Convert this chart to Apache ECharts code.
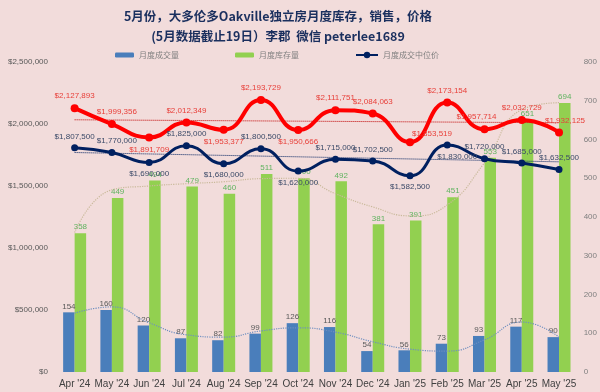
<!DOCTYPE html>
<html><head><meta charset="utf-8">
<script src="https://cdn.jsdelivr.net/npm/echarts@6/dist/echarts.min.js"></script>
<style>html,body{margin:0;padding:0;background:#f2dcdb}#c{width:600px;height:392px}</style>
</head><body><div id="c"></div>
<script>
var categories = ["Apr '24","May '24","Jun '24","Jul '24","Aug '24","Sep '24","Oct '24","Nov '24","Dec '24","Jan '25","Feb '25","Mar '25","Apr '25","May '25"];
var volume = [154,160,120,87,82,99,126,116,54,56,73,93,117,90];
var inventory = [358,449,494,479,460,511,500,492,381,391,451,553,651,694];
var medianPrice = [1807500,1770000,1690000,1825000,1680000,1800500,1620000,1715000,1702500,1582500,1830000,1720000,1685000,1632500];
var avgPrice = [2127893,1999356,1891709,2012349,1953377,2193729,1950666,2111751,2084063,1853519,2173154,1957714,2032729,1932125];
var volTrend = [152,168,127,96,90,106,114,103,78,59,54,83,129,90];
var invTrend = [360,470,480,486,491,499,500,460,426,403,431,540,677,695];
var avgTrendEnds = [2034000,2010000];
var medTrendEnds = [1770000,1695000];

var redPos = ['top','top','bottom','top','bottom','top','bottom','top','top','right','top','top','top','top'];
var navyPos = ['top','top','bottom','top','bottom','top','bottom','top','top','bottom','bottom','top','top','top'];
var redOff = [[0,0],[5,0],[0,0],[0,0],[0,0],[0,0],[0,0],[0,0],[0,0],[-6,-8],[0,0],[-8,0],[0,0],[6,0]];
var navyOff = [[0,0],[5,0],[0,0],[0,0],[0,0],[0,0],[0,0],[0,0],[0,0],[0,0],[10,0],[0,0],[0,0],[0,0]];

function money(v){return '$'+v.toString().replace(/\B(?=(\d{3})+(?!\d))/g, ',');}

var chart = echarts.init(document.getElementById('c'));
var lblFont = 'Liberation Sans';
chart.setOption({
  backgroundColor:'#f2dcdb',
  animation:false,
  title:{
    text:'5月份，大多伦多Oakville独立房月度库存，销售，价格\n(5月数据截止19日）李郡  微信 peterlee1689',
    left:273, top:1, textAlign:'center',
    textStyle:{fontFamily:'Noto Sans CJK SC',fontSize:12.5,fontWeight:'bold',color:'#1a2f5e',lineHeight:20}
  },
  legend:[
    {data:['月度成交量'],left:110,top:46,itemWidth:19,itemHeight:5,itemGap:2,textStyle:{fontSize:8,color:'#7f7f7f',fontFamily:'Noto Sans CJK SC'}},
    {data:['月度库存量'],left:230,top:46,itemWidth:19,itemHeight:5,itemGap:2,textStyle:{fontSize:8,color:'#7f7f7f',fontFamily:'Noto Sans CJK SC'}},
    {data:['月度成交中位价'],left:350,top:46,itemWidth:22,itemHeight:8,itemGap:2,textStyle:{fontSize:8,color:'#7f7f7f',fontFamily:'Noto Sans CJK SC'}}
  ],
  grid:{left:56,right:20,top:62,bottom:20},
  xAxis:{type:'category',data:categories,
    axisLine:{show:false},axisTick:{show:false},
    axisLabel:{interval:0,fontSize:10,color:'#404040',margin:7,fontFamily:lblFont}},
  yAxis:[
    {type:'value',min:0,max:2500000,interval:500000,splitLine:{show:false},axisLine:{show:false},axisTick:{show:false},
     axisLabel:{fontSize:8,color:'#595959',margin:8,fontFamily:lblFont,formatter:function(v){return money(v);}}},
    {type:'value',min:0,max:800,interval:100,splitLine:{show:false},axisLine:{show:false},axisTick:{show:false},
     axisLabel:{fontSize:8,color:'#7f7f7f',margin:6,fontFamily:lblFont}}
  ],
  series:[
    {name:'月度成交量',type:'bar',yAxisIndex:1,data:volume,barWidth:11.5,barGap:'0%',
     itemStyle:{color:'#4a7ebb'},
     label:{show:true,position:'top',fontSize:8,color:'#595959',distance:2,fontFamily:lblFont}},
    {name:'月度库存量',type:'bar',yAxisIndex:1,data:inventory,barWidth:11.5,barGap:'0%',
     itemStyle:{color:'#92d050'},
     label:{show:true,position:'top',fontSize:8,color:'#5fb35f',distance:2,fontFamily:lblFont}},
    {name:'volTrend',type:'line',yAxisIndex:1,data:volTrend,smooth:true,symbol:'none',silent:true,
     lineStyle:{color:'#6f8fc0',width:1.2,type:'dotted'},z:3},
    {name:'invTrend',type:'line',yAxisIndex:1,data:invTrend,smooth:true,symbol:'none',silent:true,
     lineStyle:{color:'#c9b99a',width:1.2,type:'dotted'},z:3},
    {name:'月度均价',type:'line',yAxisIndex:0,smooth:true,symbol:'circle',symbolSize:8,
     data:avgPrice.map(function(v,i){return {value:v,label:{position:redPos[i],offset:redOff[i]}};}),
     itemStyle:{color:'#ff0000'},lineStyle:{color:'#ff0000',width:4},
     label:{show:true,fontSize:8,color:'#e8403a',distance:4,fontFamily:lblFont,formatter:function(p){return money(p.value);}},
     markLine:{silent:true,symbol:'none',label:{show:false},lineStyle:{color:'#c00000',type:'dotted',width:1},
       data:[[{coord:[0,avgTrendEnds[0]]},{coord:[13,avgTrendEnds[1]]}]]},z:5},
    {name:'月度成交中位价',type:'line',yAxisIndex:0,smooth:true,symbol:'circle',symbolSize:7,
     data:medianPrice.map(function(v,i){return {value:v,label:{position:navyPos[i],offset:navyOff[i]}};}),
     itemStyle:{color:'#002060'},lineStyle:{color:'#002060',width:3},
     label:{show:true,fontSize:8,color:'#3b4a68',distance:4,fontFamily:lblFont,formatter:function(p){return money(p.value);}},
     markLine:{silent:true,symbol:'none',label:{show:false},lineStyle:{color:'#002060',type:'dotted',width:1},
       data:[[{coord:[0,medTrendEnds[0]]},{coord:[13,medTrendEnds[1]]}]]},z:6}
  ]
});
</script></body></html>
